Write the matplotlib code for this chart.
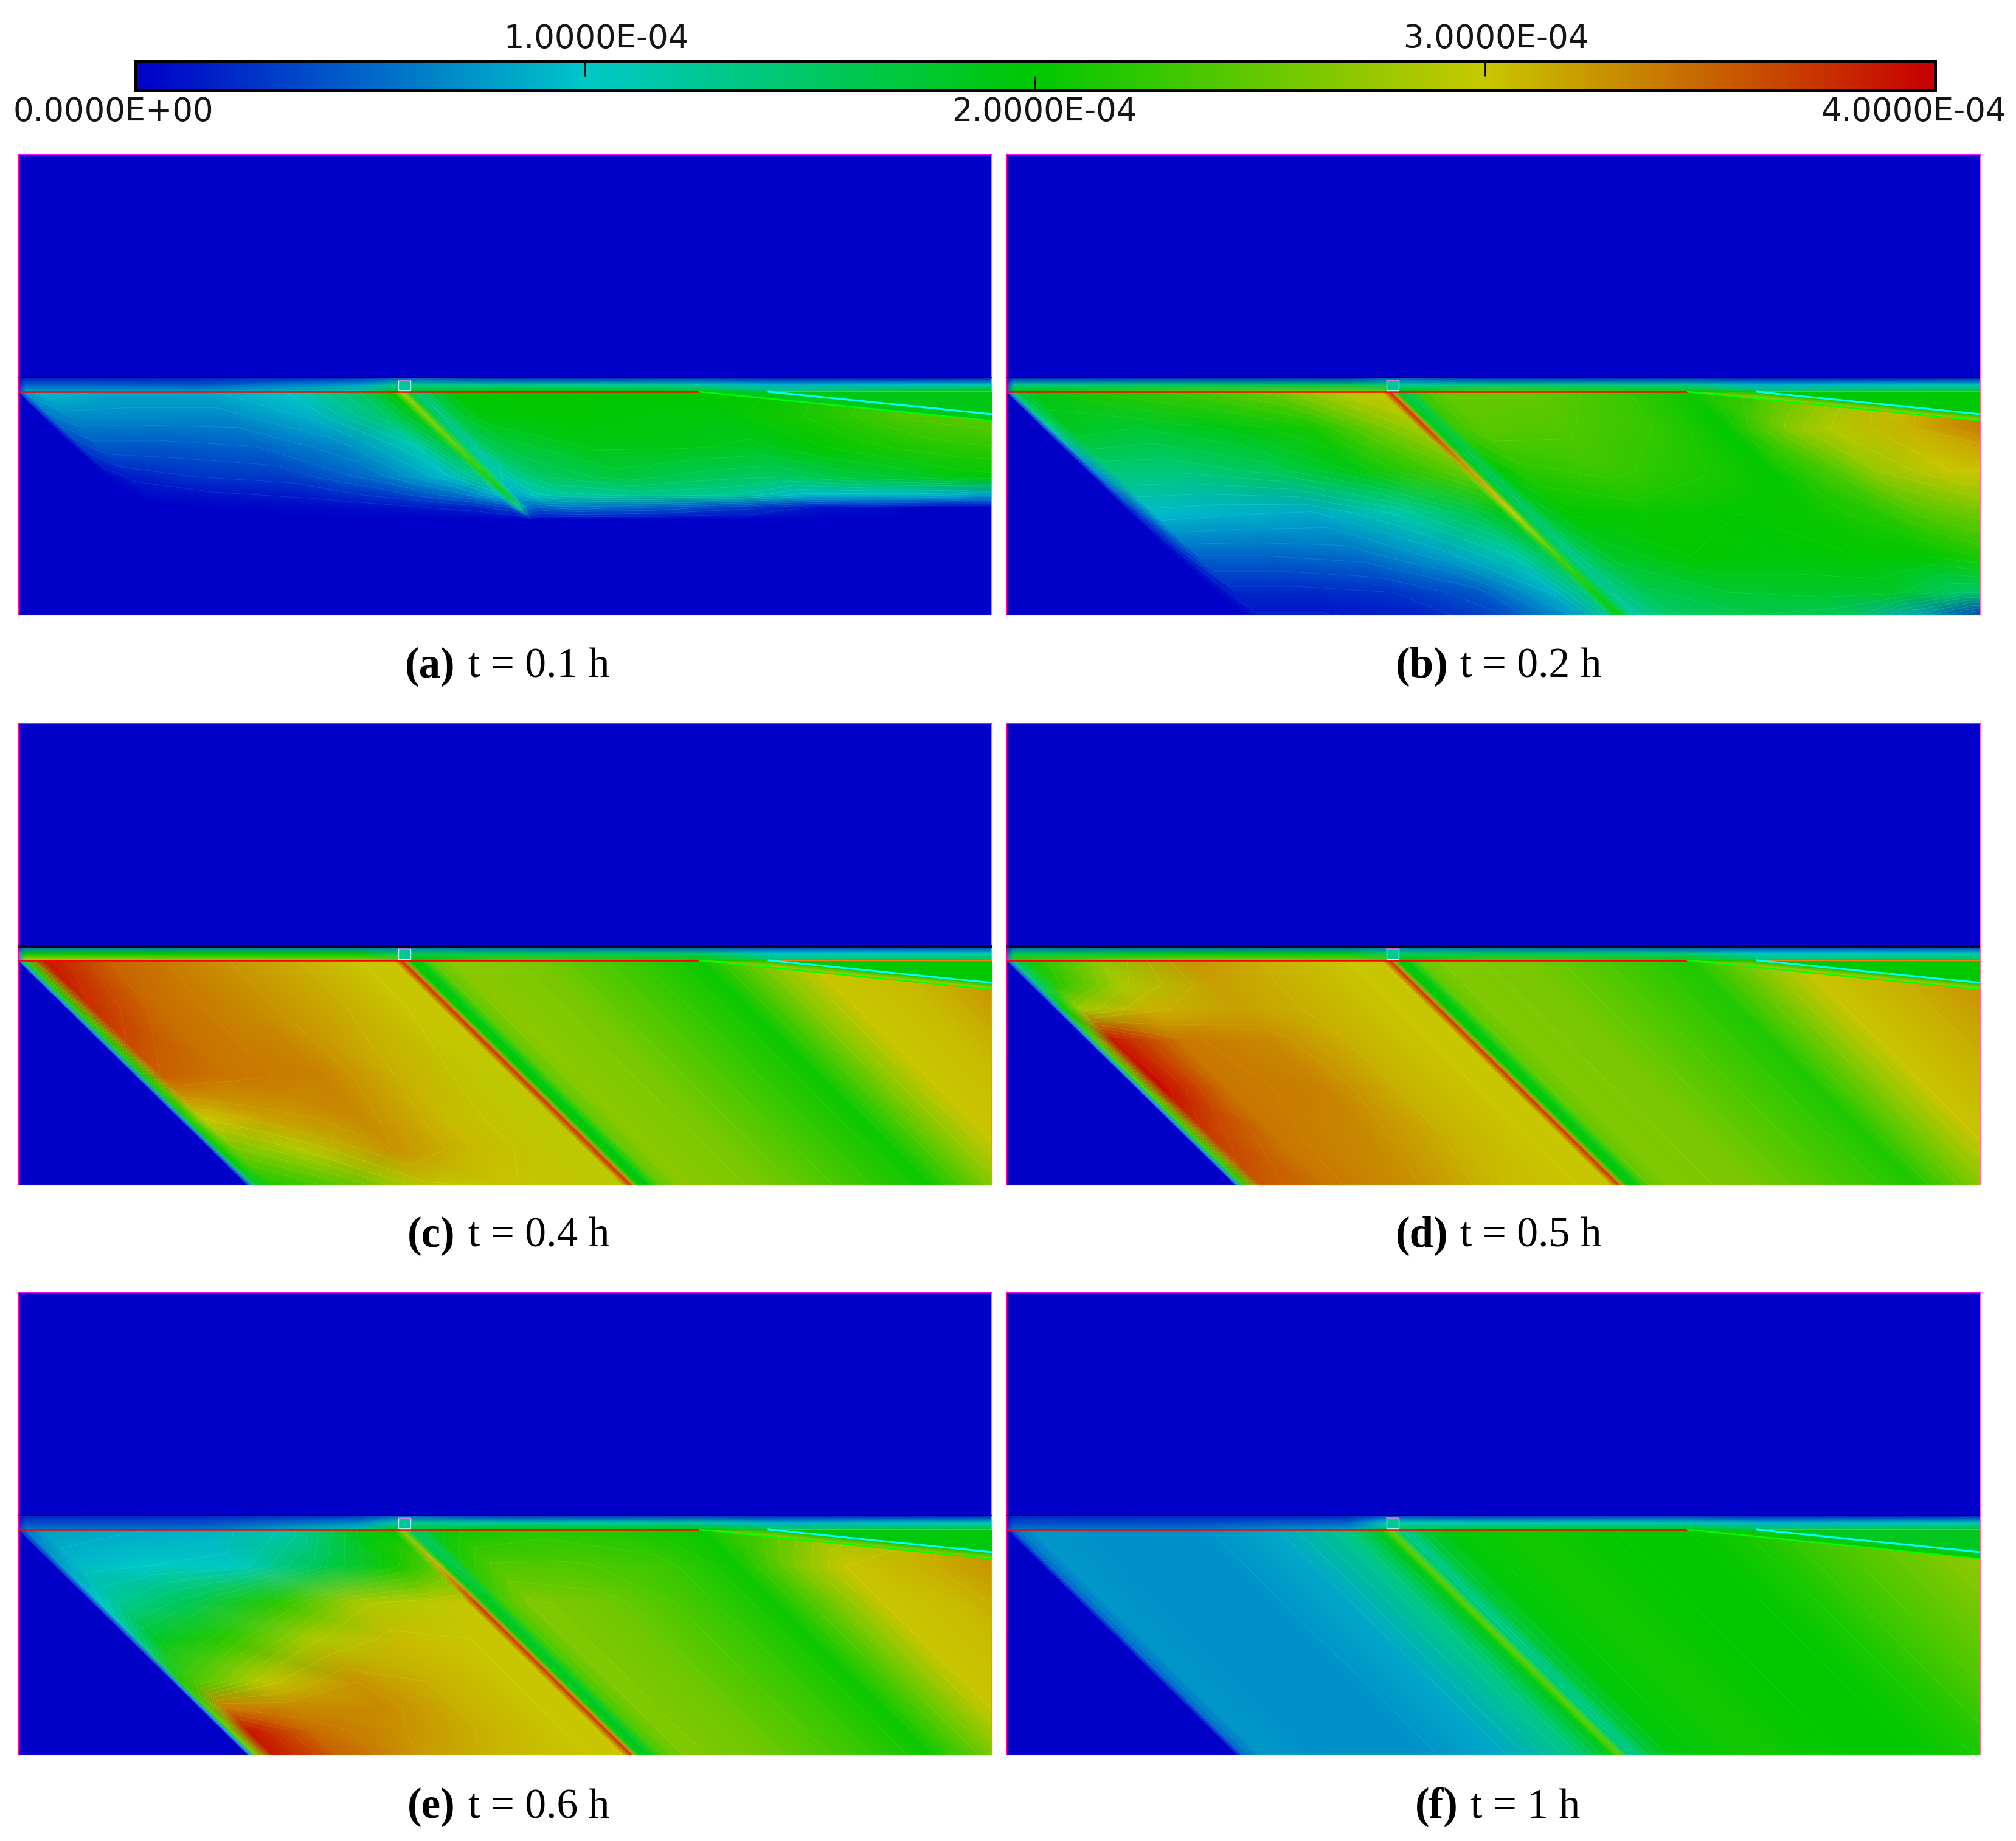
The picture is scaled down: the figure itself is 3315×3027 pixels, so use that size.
import numpy as np
import matplotlib
matplotlib.use('Agg')
import matplotlib.pyplot as plt
from matplotlib.cm import ScalarMappable
from matplotlib.colors import LinearSegmentedColormap, Normalize
from matplotlib.patches import Rectangle

W, H = 3316, 3027

# colour scale, all values in units of 1e-4
cmap_colors = ['#0000c8', '#00c8c8', '#00c800', '#c8c800', '#c80000']
tick_values = [1, 2, 3]
bar_labels = ['0.0000E+00', '1.0000E-04', '2.0000E-04', '3.0000E-04', '4.0000E-04']

letters = ['(a)', '(b)', '(c)', '(d)', '(e)', '(f)']
times = ['t = 0.1 h', 't = 0.2 h', 't = 0.4 h', 't = 0.5 h', 't = 0.6 h', 't = 1 h']

# stations along the red line, the field is read along slanted lines through them
stations = [0, 12, 40, 150, 300, 440, 560, 615,
            630, 642, 658, 680, 720, 850, 1000, 1120, 1230, 1300, 1420, 1601]

depth_a = [390, 430, 480, 530, 560, 580, 600, 765]
field_a = [
    [.3, .8, .95, .85, .85, 1.0, 1.5, 2.0, 2.8, 1.7, 1.4, 1.7, 2.0, 2.0, 2.0, 2.0, 2.0, 2.1, 2.3, 2.6],
    [.1, .6, .7, .7, .7, .9, 1.45, 1.9, 2.7, 1.6, 1.35, 1.7, 1.95, 2.0, 1.95, 1.95, 2.1, 2.2, 2.4, 2.5],
    [0, .3, .45, .45, .5, .7, 1.1, 1.7, 2.5, 1.4, 1.25, 1.55, 1.7, 1.9, 1.9, 1.85, 2.0, 2.1, 2.2, 2.3],
    [0, .05, .15, .25, .3, .55, .95, 1.35, 2.2, 1.2, 1.1, 1.3, 1.5, 1.7, 1.55, 1.5, 1.7, 1.75, 1.95, 2.0],
    [0, 0, .05, .1, .15, .3, .6, .9, 1.9, .9, .9, 1.1, 1.2, 1.3, 1.25, .95, .95, .95, .8, .8],
    [0, 0, 0, .02, .05, .1, .2, .4, 1.4, .6, .5, .55, .6, .5, .3, .1, .05, 0, 0, 0],
    [0, 0, 0, 0, 0, 0, 0, 0, 0, 0, 0, 0, 0, 0, 0, 0, 0, 0, 0, 0],
    [0, 0, 0, 0, 0, 0, 0, 0, 0, 0, 0, 0, 0, 0, 0, 0, 0, 0, 0, 0],
]

depth_b = [390, 450, 520, 590, 660, 720, 765]
field_b = [
    [.3, 1.6, 1.9, 2.15, 2.3, 2.55, 2.95, 3.0, 3.8, 1.8, 1.6, 2.3, 2.5, 2.5, 2.3, 2.05, 2.3, 2.6, 3.0, 3.3],
    [.1, 1.3, 1.85, 1.75, 1.9, 2.1, 2.6, 2.8, 3.8, 1.9, 1.7, 2.3, 2.45, 2.4, 2.25, 2.0, 2.7, 2.9, 3.1, 3.5],
    [0, .7, 1.4, 1.4, 1.55, 1.9, 2.3, 2.5, 3.3, 1.8, 1.55, 2.0, 2.2, 2.3, 2.15, 2.0, 2.4, 2.75, 3.0, 3.0],
    [0, .3, .95, .9, .85, 1.15, 1.6, 1.9, 3.0, 1.7, 1.45, 1.8, 2.0, 2.05, 2.0, 2.05, 2.2, 2.4, 2.6, 2.6],
    [0, .1, .5, .5, .55, .8, 1.15, 1.6, 2.4, 1.5, 1.3, 1.55, 1.8, 2.0, 1.95, 2.0, 2.0, 2.1, 2.3, 2.3],
    [0, .02, .2, .2, .25, .45, .9, 1.4, 2.1, 1.55, 1.25, 1.4, 1.6, 1.75, 1.8, 1.8, 1.5, 1.5, 1.5, 1.5],
    [0, 0, .1, .1, .15, .35, .75, 1.3, 2.0, 1.6, 1.2, 1.3, 1.45, 1.6, 1.5, .8, .2, .1, .1, .1],
]

right_c = [3.8, 2.0, 1.9, 2.5, 2.7, 2.6, 2.3, 2.05, 2.7, 3.0, 3.05, 3.3]
depth_c = [390, 470, 580, 650, 700, 765]
field_c = [
    [.5, 2.2, 3.9, 3.5, 3.3, 3.15, 3.0, 3.0] + right_c,
    [.4, 2.2, 3.75, 3.45, 3.3, 3.15, 3.0, 3.0] + right_c,
    [.3, 2.1, 3.5, 3.4, 3.35, 3.1, 2.95, 2.95] + right_c,
    [.2, 2.1, 3.0, 3.2, 3.3, 3.05, 2.95, 2.95] + right_c,
    [.1, 2.0, 2.6, 2.9, 3.25, 3.05, 2.95, 2.95] + right_c,
    [.1, 1.7, 2.1, 2.4, 2.95, 3.0, 2.95, 2.95] + right_c,
]

right_d = [3.75, 2.0, 1.9, 2.5, 2.65, 2.6, 2.35, 2.15, 2.7, 3.0, 3.1, 3.3]
depth_d = [390, 430, 470, 520, 600, 680, 765]
field_d = [
    [.3, 1.5, 2.1, 2.7, 3.25, 3.1, 3.0, 3.0] + right_d,
    [.3, 1.5, 2.2, 2.85, 3.2, 3.1, 3.0, 3.0] + right_d,
    [.3, 2.0, 2.8, 3.1, 3.2, 3.1, 3.0, 3.0] + right_d,
    [.3, 2.4, 3.9, 3.4, 3.3, 3.1, 3.0, 3.0] + right_d,
    [.3, 2.4, 3.95, 3.4, 3.35, 3.1, 3.0, 3.0] + right_d,
    [.3, 2.3, 3.7, 3.4, 3.3, 3.1, 3.0, 3.0] + right_d,
    [.3, 2.2, 3.55, 3.4, 3.25, 3.05, 3.0, 3.0] + right_d,
]

right_e = [3.75, 1.9, 1.8, 2.4, 2.65, 2.55, 2.3, 2.05, 2.65, 3.0, 3.05, 3.3]
depth_e = [390, 450, 510, 570, 640, 680, 720, 765]
field_e = [
    [.2, .6, .8, .85, .9, 1.15, 1.9, 2.0, 2.6, 1.5, 1.5, 1.9, 2.1, 2.2, 2.15, 2.05, 2.4, 2.7, 2.9, 3.3],
    [.2, .8, .95, 1.0, 1.05, 1.6, 2.1, 2.4, 3.2, 1.8, 1.6, 2.2, 2.4, 2.4, 2.3, 2.05, 2.7, 3.0, 3.1, 3.3],
    [.2, 1.0, 1.25, 1.55, 2.2, 2.85, 2.95, 3.0] + right_e,
    [.2, 1.3, 1.8, 2.2, 2.85, 3.05, 3.0, 3.0] + right_e,
    [.2, 2.2, 2.4, 2.95, 3.25, 3.1, 3.0, 3.0] + right_e,
    [.2, 2.4, 3.35, 3.3, 3.3, 3.1, 3.0, 3.0] + right_e,
    [.2, 2.5, 3.9, 3.45, 3.25, 3.1, 3.0, 3.0] + right_e,
    [.2, 2.6, 3.9, 3.5, 3.2, 3.05, 3.0, 3.0] + right_e,
]

depth_f = [390, 765]
field_f = [
    [0, .55, .75, .72, .72, .85, 1.35, 1.9, 2.5, 1.4, 1.35, 1.7, 1.95, 2.1, 2.0, 2.0, 2.15, 2.3, 2.5, 2.8],
    [0, .55, .75, .72, .72, .85, 1.35, 1.9, 2.5, 1.4, 1.35, 1.7, 1.95, 2.1, 2.0, 2.0, 2.15, 2.3, 2.5, 2.8],
]

# thin layer between the black and the red line
layer_x = [0, 12, 300, 560, 625, 645, 800, 1120, 1250, 1601]
layer_depth = [368, 379, 390]
layer_a = [[.1, .2, .2, .3, .5, .5, .3, .3, .2, .2],
           [.2, .5, .45, .8, 1.3, 1.3, 1.3, 1.2, .9, 1.1],
           [.3, .8, .8, 1.2, 1.9, 1.8, 2.0, 1.9, 1.4, 2.0]]
layer_b = [[.1, .3, .3, .3, .5, .5, .3, .3, .2, .2],
           [.3, 1.3, 1.5, 1.6, 1.4, 1.2, 1.4, 1.3, .9, 1.1],
           [.5, 2.0, 2.4, 2.6, 2.5, 2.0, 2.4, 2.1, 1.5, 1.7]]
layer_c = [[.2, .6, .6, .6, .6, .6, .5, .4, .3, .3],
           [.8, 2.0, 2.0, 2.0, 1.5, 1.6, 1.6, 1.5, 1.0, 1.1],
           [.8, 3.0, 2.8, 2.7, 2.5, 2.0, 2.4, 2.1, 1.5, 1.7]]
layer_d = [[.2, .5, .5, .5, .6, .6, .5, .4, .3, .3],
           [.5, 1.6, 1.9, 1.9, 1.5, 1.5, 1.6, 1.4, 1.0, 1.1],
           [.8, 2.3, 2.7, 2.6, 2.4, 2.0, 2.4, 2.1, 1.5, 1.7]]
layer_e = [[.1, .2, .2, .3, .5, .5, .3, .3, .2, .2],
           [.2, .4, .4, .7, 1.2, 1.3, 1.2, 1.2, .9, 1.1],
           [.3, .6, .6, 1.2, 1.9, 1.7, 2.0, 2.0, 1.5, 1.7]]
layer_f = [[.1, .2, .2, .2, .4, .4, .3, .3, .2, .2],
           [.2, .4, .4, .5, 1.0, 1.1, 1.1, 1.1, .9, 1.1],
           [.3, .6, .6, .8, 1.6, 1.6, 1.8, 1.9, 1.5, 1.7]]

wedge_top = [1.9, 2.0, 2.0, 2.0, 1.95, 1.85]
wedge_low = [1.8, 2.9, 3.0, 3.0, 2.8, 2.1]

depths = [depth_a, depth_b, depth_c, depth_d, depth_e, depth_f]
fields = [field_a, field_b, field_c, field_d, field_e, field_f]
layers = [layer_a, layer_b, layer_c, layer_d, layer_e, layer_f]

# layout in pixels
SLOPE = 1.02
RED_Y = 390
BLACK_Y = 368
PANEL_W = 1601
col_left = [30, 1655]
row_top = [254, 1189, 2125]
row_height = [758, 760, 761]
caption_base = [1114, 2050, 2989]
letter_right = [749, 2382, 749, 2382, 749, 2398]
time_left = [770, 2401, 770, 2401, 770, 2418]
black_lw = [1.5, 1.5, 3.0, 3.0, 1.5, 1.5]

cmap = LinearSegmentedColormap.from_list('flow', cmap_colors)
pale = LinearSegmentedColormap.from_list('pale', ['#2060ff', '#30f0f0', '#20f020', '#f0f020', '#f03000'])
norm = Normalize(vmin=0, vmax=4)

fig = plt.figure(figsize=(W / 100, H / 100), dpi=100, facecolor='white')


def add_px_axes(x0, y0, x1, y1):
    return fig.add_axes([x0 / W, 1 - y1 / H, (x1 - x0) / W, (y1 - y0) / H])


def draw_panel(ax, i, height):
    ax.set_facecolor(cmap(0.0))
    ax.set_xlim(0, PANEL_W)
    ax.set_ylim(height, 0)
    ax.set_xticks([])
    ax.set_yticks([])

    # main field, slanted grid
    s = np.array(stations, dtype=float)
    d = np.array(depths[i], dtype=float)
    S, D = np.meshgrid(s, d)
    X = S + SLOPE * (D - RED_Y)
    Z = np.array(fields[i])
    ax.pcolormesh(X, D, Z, cmap=cmap, norm=norm, shading='gouraud', zorder=1)
    ax.contour(X, D, Z, levels=np.arange(0.125, 4, 0.125), cmap=pale, norm=norm,
               linewidths=0.7, alpha=0.3, zorder=2)

    # layer under the black line
    LX, LD = np.meshgrid(layer_x, layer_depth)
    ax.pcolormesh(LX, LD, np.array(layers[i]), cmap=cmap, norm=norm, shading='gouraud', zorder=2)

    # wedge on the right
    ax.fill([1234, PANEL_W, PANEL_W], [RED_Y, RED_Y, 427], color=cmap(norm(wedge_top[i])), lw=0, zorder=3)
    wx = np.array([[1120, 1234, PANEL_W], [1120, 1234, PANEL_W]], dtype=float)
    wy = np.array([[RED_Y, RED_Y, 427], [RED_Y, 401, 438]], dtype=float)
    wz = np.array([[wedge_top[i]] * 3, [wedge_low[i]] * 3])
    ax.pcolormesh(wx, wy, wz, cmap=cmap, norm=norm, shading='gouraud', zorder=3)

    # lines
    ax.plot([0, 1120], [RED_Y, RED_Y], color='#ff0000', lw=1.8, solid_capstyle='butt', zorder=5)
    ax.plot([1234, PANEL_W], [RED_Y, RED_Y], color='#ff8000', lw=1.5, solid_capstyle='butt', zorder=5)
    ax.plot([1120, PANEL_W], [RED_Y, 438], color='#00ff00', lw=1.8, zorder=5)
    ax.plot([1234, PANEL_W], [RED_Y, 427], color='#00ffff', lw=2.2, zorder=5)
    ax.plot([0, PANEL_W], [BLACK_Y - 1, BLACK_Y - 1], color='#000030', lw=black_lw[i], zorder=5)

    # small box on the interface
    ax.add_patch(Rectangle((625, 371), 20, 17, facecolor=cmap(norm(1.25)), edgecolor='#a8fff0', lw=1.0, zorder=6))
    ax.plot([625, 645], [371, 371], color='#c070e0', lw=1.2, zorder=7)

    for side, col in [('left', '#ff00c0'), ('top', '#ff00ff'), ('right', '#ff70b0'), ('bottom', '#ffff70')]:
        ax.spines[side].set_color(col)
        ax.spines[side].set_linewidth(1.5)


for i in range(6):
    r, c = i // 2, i % 2
    x0 = col_left[c]
    y0 = row_top[r]
    ax = add_px_axes(x0, y0, x0 + PANEL_W, y0 + row_height[r])
    draw_panel(ax, i, row_height[r])
    fig.text(letter_right[i] / W, 1 - caption_base[r] / H, letters[i], ha='right', va='baseline',
             family='Liberation Serif', fontweight='bold', fontsize=51, color='black')
    fig.text(time_left[i] / W, 1 - caption_base[r] / H, times[i], ha='left', va='baseline',
             family='Liberation Serif', fontsize=50, color='black')

# colour bar
cax = add_px_axes(222, 100, 3182, 149)
cb = fig.colorbar(ScalarMappable(norm=norm, cmap=cmap), cax=cax, orientation='horizontal')
cb.set_ticks([])
cb.outline.set_linewidth(3.6)
cb.outline.set_edgecolor('black')
cax.vlines([tick_values[0], tick_values[2]], 0.5, 1, color='black', lw=2)
cax.vlines([tick_values[1]], 0, 0.5, color='black', lw=2)

label_x = [186, 980, 1717, 2460, 3147]
label_y = [199, 79, 199, 79, 199]
for lab, lx, ly in zip(bar_labels, label_x, label_y):
    fig.text(lx / W, 1 - ly / H, lab, ha='center', va='baseline', family='DejaVu Sans',
             fontsize=38, color='#151515')

fig.savefig('out.png', dpi=100, facecolor='white')
